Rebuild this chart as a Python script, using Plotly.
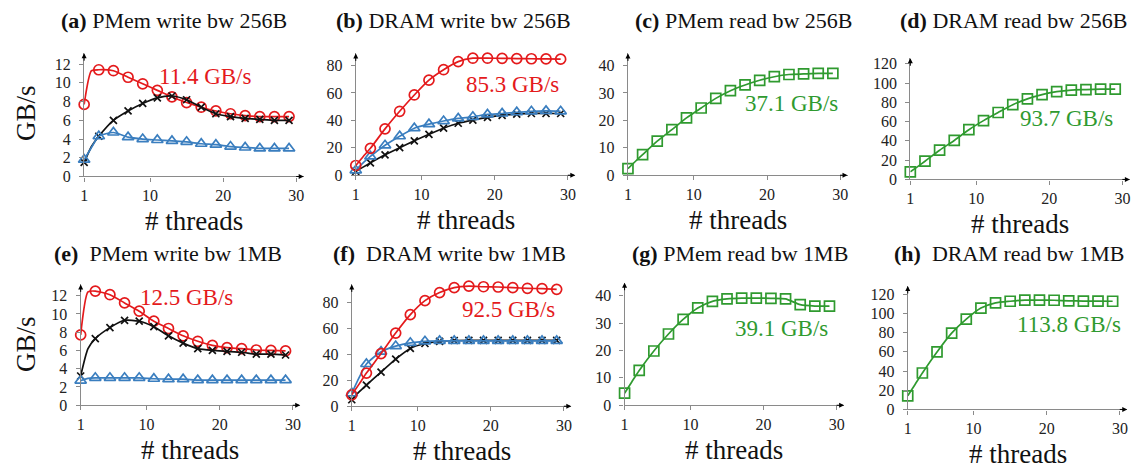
import plotly.graph_objects as go

W, H = 1146, 474

# x values (threads); markers shown on odd thread counts
X = [1, 2, 3, 5, 7, 9, 11, 13, 15, 17, 19, 21, 23, 25, 27, 29]

# (a) PMem write bw 256B
a_red = [7.7, 11.3, 11.4, 11.3, 10.6, 9.9, 9.2, 8.5, 7.9, 7.4, 7.0, 6.7, 6.5, 6.4, 6.4, 6.4]
a_black = [1.5, 3.2, 4.3, 6.0, 7.0, 7.8, 8.4, 8.6, 8.2, 7.4, 6.7, 6.4, 6.2, 6.1, 6.0, 6.0]
a_blue = [1.8, 3.1, 4.3, 4.7, 4.2, 4.0, 3.9, 3.8, 3.7, 3.5, 3.4, 3.2, 3.1, 3.0, 3.0, 3.0]
# (b) DRAM write bw 256B
b_red = [7.1, 13.5, 19.6, 33.8, 46.6, 58.5, 69.3, 76.9, 82.8, 85.3, 85.3, 85.2, 85.0, 84.9, 84.8, 84.6]
b_blue = [3.6, 9.0, 13.7, 21.8, 28.4, 34.3, 37.2, 39.5, 41.4, 42.6, 44.3, 45.0, 45.9, 46.6, 46.9, 46.6]
b_black = [2.8, 5.9, 9.0, 14.9, 20.1, 25.1, 29.8, 34.3, 37.9, 40.2, 42.1, 43.6, 44.5, 45.0, 45.0, 45.0]
# (c) PMem read bw 256B
c_green = [2.4, 5.0, 7.5, 12.4, 16.6, 20.9, 24.5, 28.0, 30.8, 32.9, 34.6, 35.9, 36.7, 36.9, 37.1, 37.1]
# (d) DRAM read bw 256B
d_green = [7.8, 13.3, 18.9, 30.3, 40.4, 51.6, 61.0, 69.4, 77.5, 83.6, 88.0, 91.0, 92.7, 93.2, 93.7, 93.7]
# (e) PMem write bw 1MB
e_red = [7.7, 12.4, 12.5, 12.1, 11.2, 10.3, 9.2, 8.4, 7.6, 7.0, 6.55, 6.3, 6.2, 6.05, 6.0, 5.95]
e_black = [3.2, 6.2, 7.3, 8.5, 9.3, 9.2, 8.6, 7.6, 6.8, 6.2, 6.0, 5.9, 5.8, 5.6, 5.6, 5.5]
e_blue = [2.7, 2.95, 3.0, 3.0, 3.0, 3.0, 2.9, 2.85, 2.85, 2.75, 2.75, 2.75, 2.75, 2.75, 2.75, 2.75]
# (f) DRAM write bw 1MB
f_red = [8.8, 17.0, 25.5, 40.5, 56.3, 70.5, 81.3, 87.5, 91.3, 92.5, 92.0, 91.8, 91.3, 90.8, 90.5, 90.0]
f_blue = [10.0, 22.0, 32.5, 42.0, 46.3, 48.8, 50.0, 50.3, 50.3, 50.3, 50.3, 50.3, 50.3, 50.3, 50.3, 50.3]
f_black = [5.0, 11.0, 16.3, 26.3, 36.3, 44.5, 48.3, 50.0, 50.6, 50.7, 50.7, 50.7, 50.7, 50.7, 50.7, 50.7]
# (g) PMem read bw 1MB
g_green = [4.4, 8.6, 12.7, 19.8, 26.0, 31.3, 35.5, 37.9, 38.8, 39.1, 39.1, 39.0, 38.8, 36.7, 36.2, 36.2]
# (h) DRAM read bw 1MB
h_green = [14.2, 26.0, 37.9, 59.8, 79.4, 94.0, 105.5, 110.9, 112.6, 113.8, 113.8, 113.6, 113.0, 112.8, 112.7, 112.6]

titles = ["(a)|PMem write bw 256B", "(b)|DRAM write bw 256B", "(c)|PMem read bw 256B",
          "(d)|DRAM read bw 256B", "(e)|\u00a0PMem write bw 1MB", "(f)|\u00a0DRAM write bw 1MB",
          "(g)|PMem read bw 1MB", "(h)|\u00a0DRAM read bw 1MB"]
peaks = ["11.4 GB/s", "85.3 GB/s", "37.1 GB/s", "93.7 GB/s",
         "12.5 GB/s", "92.5 GB/s", "39.1 GB/s", "113.8 GB/s"]

RED, BLUE, GREEN, BLACK = "#e41a1c", "#3a7ebf", "#2f9a2f", "#111111"
GRAY = "#8a8a8a"
FONT = "Liberation Serif"

# layout per panel: x=1 pixel, y=0 pixel, top pixel, y max, y dtick, title center px, peak label pos
panels = [
    dict(series=[(a_red, RED, "circle-open"), (a_black, BLACK, "x-thin-open"), (a_blue, BLUE, "triangle-up-open")],
         left=80.5, bottom=178, top=51.5, ymax=13.17, dtick=2, tcx=171, tcy=18, lab=(17.5, 10.7), lc=RED),
    dict(series=[(b_black, BLACK, "x-thin-open"), (b_blue, BLUE, "triangle-up-open"), (b_red, RED, "circle-open")],
         left=353.3, bottom=176.7, top=51.7, ymax=88.8, dtick=20, tcx=451, tcy=18, lab=(22.4, 66.3), lc=RED),
    dict(series=[(c_green, GREEN, "square-open")],
         left=626.7, bottom=176.7, top=51.7, ymax=44.4, dtick=10, tcx=743, tcy=18, lab=(23.4, 26.3), lc=GREEN),
    dict(series=[(d_green, GREEN, "square-open")],
         left=910.3, bottom=181, top=56.7, ymax=125.7, dtick=20, tcx=1014, tcy=18, lab=(22.4, 63.4), lc=GREEN),
    dict(series=[(e_red, RED, "circle-open"), (e_black, BLACK, "x-thin-open"), (e_blue, BLUE, "triangle-up-open")],
         left=77, bottom=412.7, top=288.7, ymax=13.23, dtick=2, tcx=165, tcy=257, lab=(15.5, 11.8), lc=RED),
    dict(series=[(f_black, BLACK, "x-thin-open"), (f_blue, BLUE, "triangle-up-open"), (f_red, RED, "circle-open")],
         left=349.3, bottom=413.7, top=288.7, ymax=93.8, dtick=20, tcx=447, tcy=257, lab=(22.4, 74.6), lc=RED),
    dict(series=[(g_green, GREEN, "square-open")],
         left=623.3, bottom=412.7, top=287, ymax=44.7, dtick=10, tcx=739, tcy=257, lab=(22.4, 28.1), lc=GREEN),
    dict(series=[(h_green, GREEN, "square-open")],
         left=907.7, bottom=417, top=290.3, ymax=128.5, dtick=20, tcx=1009, tcy=257, lab=(23.1, 88.5), lc=GREEN),
]

PX_PER_THREAD = 7.35
fig = go.Figure()
annotations = []
for i, p in enumerate(panels):
    n = i + 1
    xa = "x" if n == 1 else f"x{n}"
    ya = "y" if n == 1 else f"y{n}"
    xd = [p["left"] / W, (p["left"] + 30 * PX_PER_THREAD) / W]
    yd = [(H - p["bottom"]) / H, (H - p["top"]) / H]
    for vals, col, sym in p["series"]:
        fig.add_trace(go.Scatter(x=X, y=vals, xaxis=xa, yaxis=ya, mode="lines",
                                 line=dict(color=col, width=1.7, shape="spline", smoothing=0.6),
                                 showlegend=False, hoverinfo="skip", cliponaxis=False))
        mx = [xv for xv in X if xv % 2 == 1]
        my = [v for xv, v in zip(X, vals) if xv % 2 == 1]
        msize = 7 if sym.startswith("x") else 10
        fig.add_trace(go.Scatter(x=mx, y=my, xaxis=xa, yaxis=ya, mode="markers",
                                 marker=dict(symbol=sym, size=msize, color=col,
                                             line=dict(color=col, width=1.7)),
                                 showlegend=False, hoverinfo="skip", cliponaxis=False))
    axis_common = dict(showgrid=False, zeroline=False, showline=True, linecolor=GRAY, linewidth=1.3,
                       ticks="outside", ticklen=4, tickcolor=GRAY, tickwidth=1.2,
                       tickfont=dict(family=FONT, size=16, color="#222222"))
    fig.update_layout(**{
        ("xaxis" if n == 1 else f"xaxis{n}"): dict(domain=xd, range=[1, 31], anchor=ya,
                                                    tickvals=[1, 10, 20, 30], **axis_common),
        ("yaxis" if n == 1 else f"yaxis{n}"): dict(domain=yd, range=[0, p["ymax"]], anchor=xa,
                                                    dtick=p["dtick"], tick0=0, ticklabelstandoff=5,
                                                    **axis_common),
    })
    # axis arrows
    annotations.append(dict(x=1, y=p["ymax"], xref=xa, yref=ya, ax=0, ay=9, text="",
                            showarrow=True, arrowhead=2, arrowsize=1, arrowwidth=1, arrowcolor="black"))
    annotations.append(dict(x=31, y=0, xref=xa, yref=ya, ax=-9, ay=0, text="",
                            showarrow=True, arrowhead=2, arrowsize=1, arrowwidth=1, arrowcolor="black"))
    # title
    tag, rest = titles[i].split("|")
    annotations.append(dict(x=p["tcx"] / W, y=1 - p["tcy"] / H, xref="paper", yref="paper",
                            text=f"<b>{tag}</b> {rest}", showarrow=False,
                            font=dict(family=FONT, size=22, color="#111111"),
                            xanchor="center", yanchor="middle"))
    # x axis title
    xc = (p["left"] + 15 * PX_PER_THREAD) / W
    annotations.append(dict(x=xc, y=1 - (p["bottom"] + 46) / H, xref="paper", yref="paper",
                            text="# threads", showarrow=False,
                            font=dict(family=FONT, size=27, color="#111111"),
                            xanchor="center", yanchor="middle"))
    # peak label
    annotations.append(dict(x=p["lab"][0], y=p["lab"][1], xref=xa, yref=ya, text=peaks[i],
                            showarrow=False, font=dict(family=FONT, size=23, color=p["lc"]),
                            xanchor="center", yanchor="middle"))

for yc in (113, 350):
    annotations.append(dict(x=22 / W, y=1 - yc / H, xref="paper", yref="paper", text="GB/s",
                            textangle=-90, showarrow=False,
                            font=dict(family=FONT, size=27, color="#111111"),
                            xanchor="center", yanchor="middle"))

fig.update_layout(width=W, height=H, margin=dict(l=0, r=0, t=0, b=0),
                  paper_bgcolor="white", plot_bgcolor="white", annotations=annotations)

fig.write_html("out.html", config={"displayModeBar": False},
               post_script="document.body.style.margin='0';")
